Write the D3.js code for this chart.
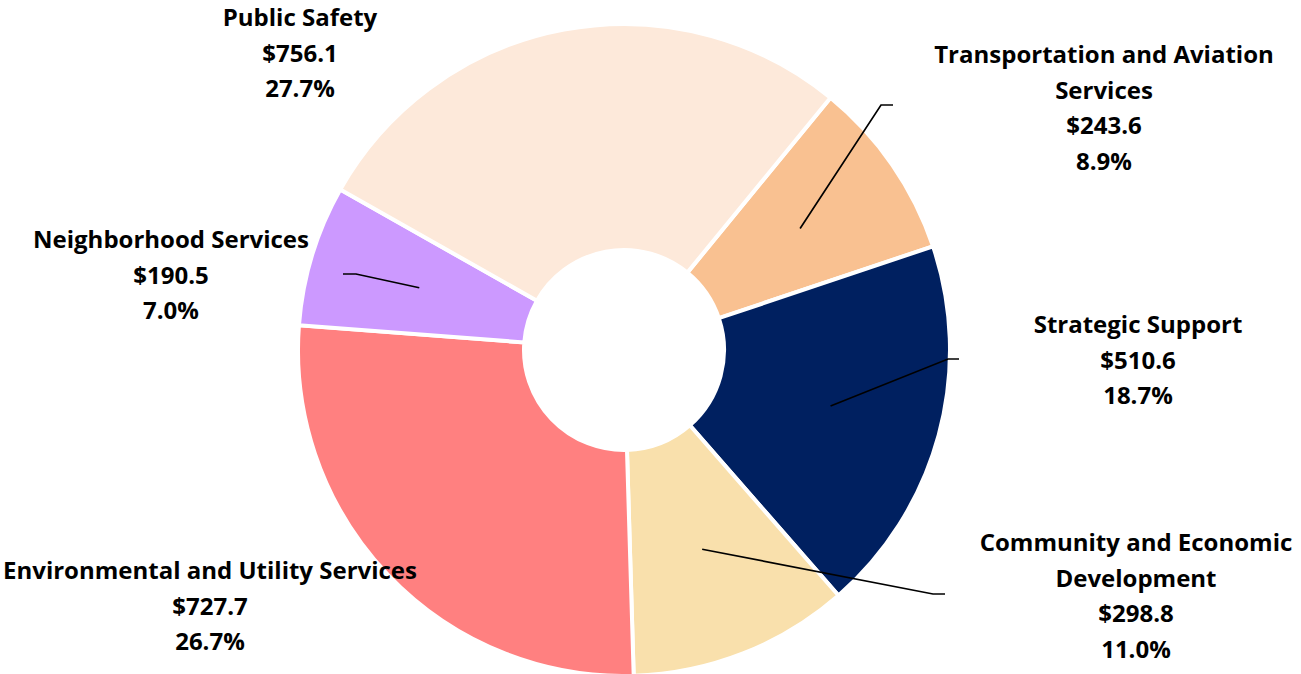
<!DOCTYPE html>
<html>
<head>
<meta charset="utf-8">
<script src="https://cdn.jsdelivr.net/npm/d3@7"></script>
<style>
  body { margin: 0; background: #fff; }
  text { font-family: "Open Sans", Lato, sans-serif; font-weight: bold; fill: #000; }
</style>
</head>
<body>
<svg></svg>
<script>
let categories = ["Transportation and Aviation Services", "Strategic Support", "Community and Economic Development",
                  "Environmental and Utility Services", "Neighborhood Services", "Public Safety"]
let values = [243.6, 510.6, 298.8, 727.7, 190.5, 756.1]
let percents = ["8.9%", "18.7%", "11.0%", "26.7%", "7.0%", "27.7%"]
let colors = ["#F9C191", "#002060", "#F9E0AC", "#FF8080", "#CC99FF", "#FDE9DA"]

// label text lines (wrapped like the original)
let labelLines = [
    ["Transportation and Aviation", "Services"],
    ["Strategic Support"],
    ["Community and Economic", "Development"],
    ["Environmental and Utility Services"],
    ["Neighborhood Services"],
    ["Public Safety"]
]

let width = 1301
let height = 674
let cx = 624
let cy = 350
let outerR = 326
let innerR = 100
let lineH = 35.5

// label placement: centre x, first baseline y, leader elbow end (null = no leader)
let labelPos = [
    {x: 1104, y: 63, leader: [[881, 105], [893, 105]]},
    {x: 1138, y: 333, leader: [[948, 359], [959, 359]]},
    {x: 1136, y: 551, leader: [[933, 594], [945, 594]]},
    {x: 210, y: 579, leader: null},
    {x: 171, y: 248, leader: [[356, 274], [343, 274]]},
    {x: 300, y: 26, leader: null}
]

let svg = d3.select('svg')
            .attr('width', width)
            .attr('height', height)

let startA = 39.3 * Math.PI / 180

let pie = d3.pie()
            .sort(null)
            .value(d => d)
            .startAngle(startA)
            .endAngle(startA + 2 * Math.PI)

let arcs = pie(values)

let arc = d3.arc()
            .innerRadius(innerR)
            .outerRadius(outerR)

let leaderArc = d3.arc()
                  .innerRadius(214)
                  .outerRadius(214)

let g = svg.append('g')
           .attr('transform', `translate(${cx},${cy})`)

g.selectAll('path.slice')
 .data(arcs)
 .enter()
 .append('path')
 .attr('class', 'slice')
 .attr('d', arc)
 .attr('fill', (d, i) => colors[i])
 .attr('stroke', '#fff')
 .attr('stroke-width', 4)

// leader lines
arcs.forEach((d, i) => {
    let p = labelPos[i]
    if (!p.leader) return
    let c = leaderArc.centroid(d)
    let pts = [[c[0] + cx, c[1] + cy]].concat(p.leader)
    svg.append('path')
       .attr('d', d3.line()(pts))
       .attr('fill', 'none')
       .attr('stroke', '#000')
       .attr('stroke-width', 1.7)
})

// labels
categories.forEach((c, i) => {
    let p = labelPos[i]
    let lines = labelLines[i].concat(["$" + values[i].toFixed(1), percents[i]])
    let t = svg.append('text')
               .attr('text-anchor', 'middle')
               .attr('font-size', 24)
    lines.forEach((l, j) => {
        t.append('tspan')
         .attr('x', p.x)
         .attr('y', p.y + j * lineH)
         .text(l)
    })
})
</script>
</body>
</html>
